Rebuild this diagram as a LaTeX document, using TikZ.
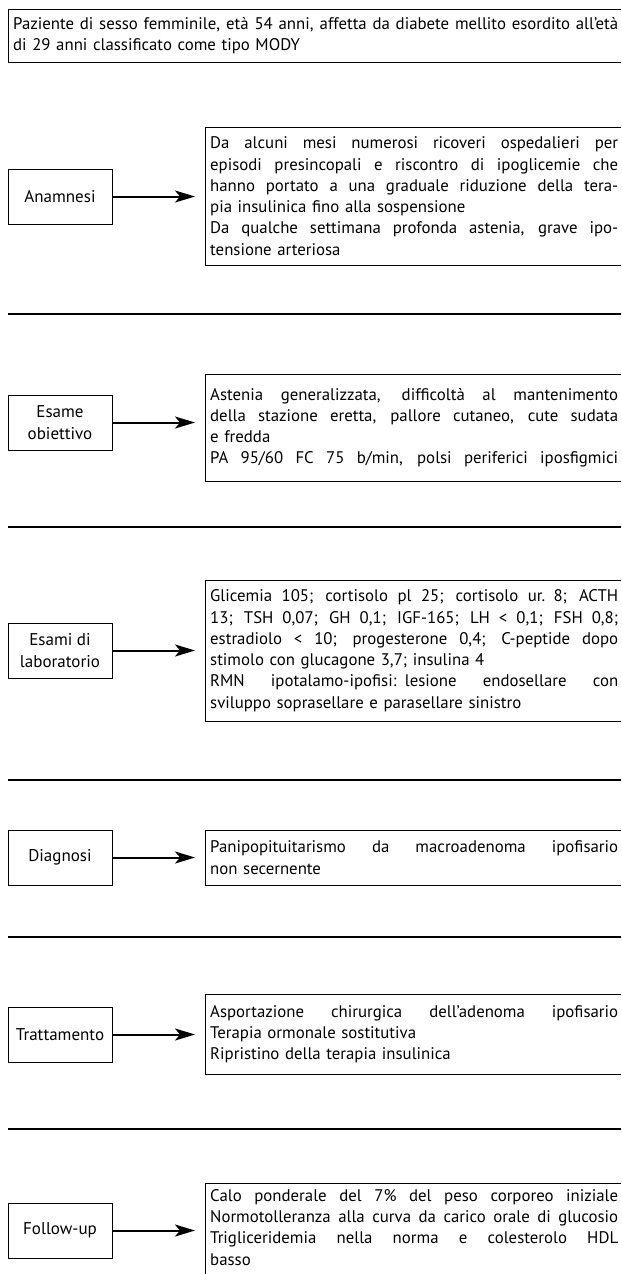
\documentclass[tikz,border=0pt]{standalone}
\usepackage{fontspec}
\setmainfont{PT Sans}
\usetikzlibrary{arrows.meta}
\def\tw{408pt}
\newcommand{\jl}[1]{\hbox to \tw{\spaceskip=\fontdimen2\font plus 1fil minus 0.3\fontdimen2\font\relax #1}}
\newcommand{\rl}[1]{\hbox to \tw{#1\hfil}}
\tikzset{
  lbl/.style={draw, line width=1pt, minimum width=104pt, minimum height=55pt,
    inner sep=0pt, align=center, font=\fontsize{17}{22}\selectfont},
  tbox/.style={anchor=north west, text width=408pt,
    inner xsep=5pt, inner ysep=3pt, font=\fontsize{16.8}{21.3}\selectfont},
  bline/.style={line width=1pt},
  arr/.style={line width=2pt, -{Stealth[length=20pt,width=12pt,inset=5pt]}, shorten >=10pt},
  sep/.style={line width=2pt}
}
\begin{document}
\begin{tikzpicture}[x=1pt,y=-1pt]
\useasboundingbox (0,0) rectangle (621,1274);
\coordinate (R) at (621,0);
\coordinate (B) at (0,1274);
% intro
\node[tbox, text width=605pt, minimum height=53pt] (t0) at (8,9) {\def\tw{605pt}%
\jl{Paziente di sesso femminile, età 54 anni, affetta da diabete mellito esordito all’età}
\rl{di 29 anni classificato come tipo MODY}};
\draw[bline] (t0.north -| R) -- (t0.north west) -- (t0.south west) -- (t0.south -| R);
% Anamnesi
\node[lbl] (l1) at (60,196.5) {Anamnesi};
\node[tbox, minimum height=138pt] (t1) at (205,127) {%
\jl{Da alcuni mesi numerosi ricoveri ospedalieri per}
\jl{episodi presincopali e riscontro di ipoglicemie che}
\jl{hanno portato a una graduale riduzione della tera-}
\rl{pia insulinica fino alla sospensione}
\jl{Da qualche settimana profonda astenia, grave ipo-}
\rl{tensione arteriosa}};
\draw[bline] (t1.north -| R) -- (t1.north west) -- (t1.south west) -- (t1.south -| R);
\draw[arr] (l1.east) -- (l1.east -| t1.west);
\draw[sep] (8,314) -- (621,314);
% Esame obiettivo
\node[lbl] (l2) at (60,422.5) {Esame\\obiettivo};
\node[tbox, minimum height=107pt] (t2) at (205,374) {%
\jl{Astenia generalizzata, difficoltà al mantenimento}
\jl{della stazione eretta, pallore cutaneo, cute sudata}
\rl{e fredda}
\jl{PA 95/60 FC 75 b/min, polsi periferici iposfigmici}};
\draw[bline] (t2.north -| R) -- (t2.north west) -- (t2.south west) -- (t2.south -| R);
\draw[arr] (l2.east) -- (l2.east -| t2.west);
\draw[sep] (8,527) -- (621,527);
% Esami di laboratorio
\node[lbl] (l3) at (60,650.5) {Esami di\\laboratorio};
\node[tbox, minimum height=141pt] (t3) at (205,580) {%
\jl{Glicemia 105; cortisolo pl 25; cortisolo ur. 8; ACTH}
\jl{13; TSH 0,07; GH 0,1; IGF-165; LH < 0,1; FSH 0,8;}
\jl{estradiolo < 10; progesterone 0,4; C-peptide dopo}
\rl{stimolo con glucagone 3,7; insulina 4}
\jl{RMN ipotalamo-ipofisi: lesione endosellare con}
\rl{sviluppo soprasellare e parasellare sinistro}};
\draw[bline] (t3.north -| R) -- (t3.north west) -- (t3.south west) -- (t3.south -| R);
\draw[arr] (l3.east) -- (l3.east -| t3.west);
\draw[sep] (8,780) -- (621,780);
% Diagnosi
\node[lbl] (l4) at (60,857.5) {Diagnosi};
\node[tbox, minimum height=55pt] (t4) at (205,830) {%
\jl{Panipopituitarismo da macroadenoma ipofisario}
\rl{non secernente}};
\draw[bline] (t4.north -| R) -- (t4.north west) -- (t4.south west) -- (t4.south -| R);
\draw[arr] (l4.east) -- (l4.east -| t4.west);
\draw[sep] (8,937) -- (621,937);
% Trattamento
\node[lbl] (l5) at (60,1034.5) {Trattamento};
\node[tbox, minimum height=80pt] (t5) at (205,994) {%
\jl{Asportazione chirurgica dell’adenoma ipofisario}
\rl{Terapia ormonale sostitutiva}
\rl{Ripristino della terapia insulinica}};
\draw[bline] (t5.north -| R) -- (t5.north west) -- (t5.south west) -- (t5.south -| R);
\draw[arr] (l5.east) -- (l5.east -| t5.west);
\draw[sep] (8,1129) -- (621,1129);
% Follow-up
\node[lbl] (l6) at (60,1230.5) {Follow-up};
\node[tbox, inner ysep=6pt] (t6) at (205,1183) {%
\jl{Calo ponderale del 7\% del peso corporeo iniziale}
\jl{Normotolleranza alla curva da carico orale di glucosio}
\jl{Trigliceridemia nella norma e colesterolo HDL}
\rl{basso}};
\draw[bline] (t6.north -| R) -- (t6.north west) -- (t6.west |- B);
\draw[arr] (l6.east) -- (l6.east -| t6.west);
\end{tikzpicture}
\end{document}
